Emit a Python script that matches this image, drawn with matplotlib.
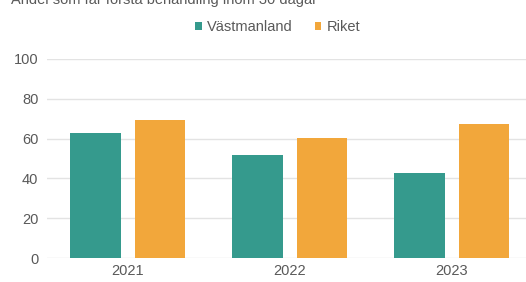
import matplotlib
matplotlib.use('Agg')
import matplotlib.pyplot as plt
import numpy as np

plt.rcParams['font.family'] = ['Liberation Sans', 'DejaVu Sans']

# Data
years = ['2021', '2022', '2023']
vastmanland = [63, 52, 42.5]
riket = [69.5, 60.5, 67.5]

teal = '#359A8D'
orange = '#F2A73B'
grey = '#595959'

fig = plt.figure(figsize=(5.26, 2.82), dpi=100)
ax = fig.add_axes([0.089, 0.085, 0.924, 0.706])

x = np.arange(len(years))
w = 0.31
ax.bar(x - 0.2, vastmanland, w, color=teal, label='Västmanland', zorder=3)
ax.bar(x + 0.2, riket, w, color=orange, label='Riket', zorder=3)

ax.set_xlim(-0.5, 2.5)
ax.set_ylim(0, 100)
ax.set_yticks([0, 20, 40, 60, 80, 100])
ax.set_xticks(x)
ax.set_xticklabels(years)
ax.grid(axis='y', color='#E3E3E3', linewidth=1, zorder=0)
for s in ax.spines.values():
    s.set_visible(False)
ax.tick_params(length=0, labelsize=10.5, colors=grey, pad=6)
ax.tick_params(axis='x', pad=4)

fig.legend(loc='center', bbox_to_anchor=(0.528, 0.905), ncol=2, frameon=False,
           fontsize=10.5, labelcolor=grey, handlelength=0.45, handleheight=0.45,
           handletextpad=0.35, columnspacing=1.5)

# title is partly cut off at the top edge in the reference
fig.text(0.02, 1.002, 'Andel som får första behandling inom 30 dagar',
         fontsize=10.5, color=grey, va='center', ha='left')

fig.savefig('out.png', dpi=100)
